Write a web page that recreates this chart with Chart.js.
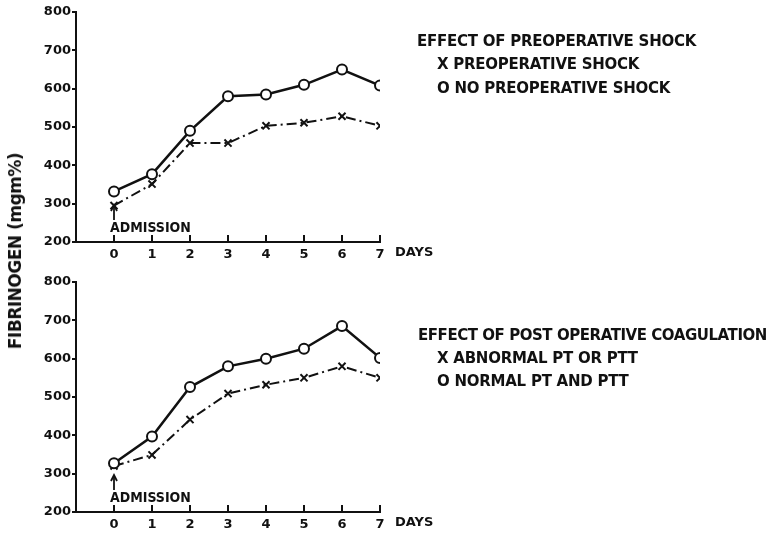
<!DOCTYPE html>
<html>
<head>
<meta charset="utf-8">
<script src="https://cdn.jsdelivr.net/npm/chart.js@4"></script>
<style>
  body { margin: 0; background: #fff; }
  #wrap { position: relative; width: 769px; height: 538px; overflow: hidden; }
  canvas { position: absolute; left: 0; }
  .txt { position: absolute; font-family: "DejaVu Sans", sans-serif; font-weight: bold; color: #111;
         white-space: nowrap; font-size: 15px; line-height: 15px; letter-spacing: -0.25px; }
  #ytitle { position: absolute; left: 15px; top: 251px; font-family: "DejaVu Sans", sans-serif;
            font-weight: bold; font-size: 17px; letter-spacing: -0.5px; color: #111; white-space: nowrap;
            transform: translate(-50%, -50%) rotate(-90deg); }
</style>
</head>
<body>
<div id="wrap">
  <canvas id="topChart" width="769" height="269" style="top:0"></canvas>
  <canvas id="botChart" width="769" height="269" style="top:269px"></canvas>
  <div id="ytitle">FIBRINOGEN (mgm%)</div>
  <div class="txt" style="left:417px;top:34px">EFFECT OF PREOPERATIVE SHOCK</div>
  <div class="txt" style="left:437px;top:57px">X PREOPERATIVE SHOCK</div>
  <div class="txt" style="left:437px;top:81px">O NO PREOPERATIVE SHOCK</div>
  <div class="txt" style="left:418px;top:328px;letter-spacing:-0.45px">EFFECT OF POST OPERATIVE COAGULATION</div>
  <div class="txt" style="left:437px;top:351px">X ABNORMAL PT OR PTT</div>
  <div class="txt" style="left:437px;top:374px">O NORMAL PT AND PTT</div>
</div>
<script>
const days = [0, 1, 2, 3, 4, 5, 6, 7];
const yTicks = [200, 300, 400, 500, 600, 700, 800];

// top panel: effect of preoperative shock
const shock = [295, 351, 458, 458, 503, 511, 528, 503];
const noShock = [332, 377, 490, 580, 585, 610, 650, 608];

// bottom panel: effect of post operative coagulation
const abnormal = [320, 349, 441, 509, 532, 550, 580, 550];
const normal = [327, 397, 526, 580, 600, 626, 685, 602];

const ink = '#111';
const tickFont = { family: 'DejaVu Sans', weight: 'bold', size: 13 };

function pts(vals) {
  return days.map((d, i) => ({ x: d, y: vals[i] }));
}

// inner x ticks, DAYS label, admission arrow
const extras = {
  id: 'extras',
  afterDraw(chart) {
    const ctx = chart.ctx, xs = chart.scales.x, area = chart.chartArea;
    ctx.save();
    ctx.strokeStyle = ink;
    ctx.fillStyle = ink;
    ctx.lineWidth = 2;
    days.forEach(d => {
      const px = xs.getPixelForValue(d);
      ctx.beginPath();
      ctx.moveTo(px, area.bottom);
      ctx.lineTo(px, area.bottom - 7);
      ctx.stroke();
    });
    ctx.font = 'bold 13px "DejaVu Sans"';
    ctx.textBaseline = 'middle';
    ctx.fillText('DAYS', xs.getPixelForValue(days[days.length - 1]) + 15, area.bottom + 11);

    const x0 = xs.getPixelForValue(days[0]);
    ctx.lineWidth = 1.8;
    ctx.beginPath();
    ctx.moveTo(x0, area.bottom - 22);
    ctx.lineTo(x0, area.bottom - 36);
    ctx.stroke();
    ctx.beginPath();
    ctx.moveTo(x0 - 3, area.bottom - 31);
    ctx.lineTo(x0, area.bottom - 37);
    ctx.lineTo(x0 + 3, area.bottom - 31);
    ctx.stroke();
    ctx.font = 'bold 14px "DejaVu Sans Condensed", "DejaVu Sans"';
    ctx.textBaseline = 'alphabetic';
    ctx.fillText('ADMISSION', x0 - 4, area.bottom - 10);
    ctx.restore();
  }
};

function makeChart(id, xVals, oVals, topPad, xHeight) {
  return new Chart(document.getElementById(id), {
    type: 'line',
    data: {
      datasets: [
        {
          data: pts(oVals),
          borderColor: ink,
          borderWidth: 2.5,
          pointStyle: 'circle',
          pointRadius: 5,
          pointBorderWidth: 2,
          pointBackgroundColor: '#fff',
          pointBorderColor: ink,
          tension: 0
        },
        {
          data: pts(xVals),
          borderColor: ink,
          borderWidth: 2,
          borderDash: [10, 4, 2, 4],
          pointStyle: 'crossRot',
          pointRadius: 5,
          pointBorderWidth: 2,
          pointBorderColor: ink,
          tension: 0
        }
      ]
    },
    options: {
      responsive: false,
      animation: false,
      devicePixelRatio: 1,
      layout: { padding: { top: topPad, right: 389, bottom: 0, left: 0 } },
      plugins: { legend: { display: false }, tooltip: { enabled: false } },
      scales: {
        x: {
          type: 'linear',
          min: -1,
          max: 7,
          grid: { display: false, drawTicks: false },
          border: { display: true, color: ink, width: 2 },
          ticks: {
            stepSize: 1,
            padding: 5,
            color: ink,
            font: tickFont,
            callback: v => (days.includes(v) ? String(v) : '')
          },
          afterFit: s => { s.height = xHeight; }
        },
        y: {
          min: yTicks[0],
          max: yTicks[yTicks.length - 1],
          grid: { drawOnChartArea: false, drawTicks: true, tickLength: 4, color: ink, lineWidth: 2 },
          border: { display: true, color: ink, width: 2 },
          ticks: { stepSize: 100, padding: 1, color: ink, font: tickFont },
          afterFit: s => { s.width = 76; }
        }
      }
    },
    plugins: [extras]
  });
}

makeChart('topChart', shock, noShock, 12, 27);
makeChart('botChart', abnormal, normal, 13, 26);
</script>
</body>
</html>
